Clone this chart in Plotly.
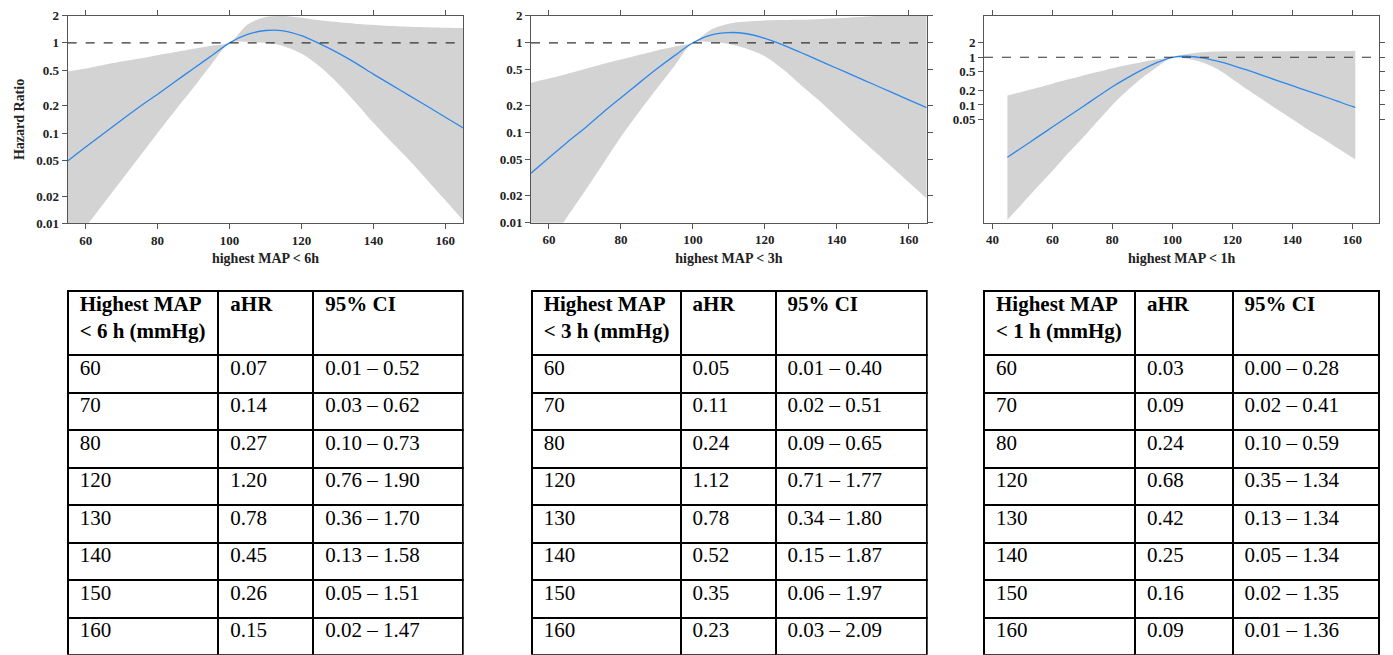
import plotly.graph_objects as go

W, H = 1393, 655

# ---------------- data ----------------
x6 = [55, 60, 65, 70, 75, 80, 85, 90, 95, 100, 105, 110, 115, 120, 125, 130, 135, 140, 145, 150, 155, 160, 165]
hr6 = [0.049, 0.07, 0.099, 0.14, 0.196, 0.27, 0.375, 0.52, 0.72, 1.0, 1.24, 1.37, 1.36, 1.20, 0.98, 0.78, 0.60, 0.45, 0.342, 0.26, 0.198, 0.15, 0.114]
up6 = [0.48, 0.52, 0.57, 0.62, 0.67, 0.73, 0.79, 0.86, 0.93, 1.0, 1.60, 1.93, 1.98, 1.90, 1.78, 1.70, 1.63, 1.58, 1.54, 1.51, 1.49, 1.47, 1.46]
lo6 = [0.005, 0.0091, 0.0166, 0.0302, 0.055, 0.10, 0.18, 0.32, 0.58, 1.0, 1.03, 1.0, 0.92, 0.76, 0.55, 0.36, 0.22, 0.13, 0.08, 0.05, 0.03, 0.018, 0.0107]

x3 = [55, 60, 65, 70, 75, 80, 85, 90, 95, 100, 105, 110, 115, 120, 125, 130, 135, 140, 145, 150, 155, 160, 165]
hr3 = [0.0355, 0.0527, 0.078, 0.113, 0.168, 0.245, 0.356, 0.513, 0.724, 1.0, 1.22, 1.30, 1.26, 1.12, 0.95, 0.78, 0.637, 0.521, 0.426, 0.348, 0.284, 0.232, 0.19]
up3 = [0.36, 0.40, 0.45, 0.51, 0.58, 0.65, 0.73, 0.82, 0.91, 1.0, 1.40, 1.63, 1.72, 1.77, 1.79, 1.80, 1.83, 1.87, 1.92, 1.97, 2.03, 2.09, 2.15]
lo3 = [0.0029, 0.0058, 0.0115, 0.0225, 0.045, 0.09, 0.17, 0.31, 0.56, 1.0, 1.02, 0.97, 0.86, 0.71, 0.51, 0.34, 0.23, 0.15, 0.098, 0.0645, 0.0427, 0.0282, 0.0186]

x1 = [45, 50, 55, 60, 65, 70, 75, 80, 85, 90, 95, 100, 105, 110, 115, 120, 125, 130, 135, 140, 145, 150, 155, 160, 161]
hr1 = [0.008, 0.013, 0.0211, 0.0344, 0.0558, 0.0908, 0.148, 0.24, 0.37, 0.55, 0.78, 1.0, 1.05, 0.97, 0.83, 0.68, 0.537, 0.419, 0.325, 0.253, 0.197, 0.155, 0.12, 0.093, 0.089]
up1 = [0.157, 0.19, 0.23, 0.28, 0.34, 0.41, 0.49, 0.59, 0.69, 0.80, 0.91, 1.0, 1.17, 1.28, 1.32, 1.34, 1.34, 1.34, 1.34, 1.34, 1.35, 1.35, 1.355, 1.36, 1.36]
lo1 = [0.00039, 0.00086, 0.0019, 0.0041, 0.0093, 0.02, 0.045, 0.10, 0.2, 0.37, 0.63, 1.0, 0.93, 0.78, 0.57, 0.35, 0.21, 0.13, 0.08, 0.05, 0.031, 0.02, 0.0125, 0.0079, 0.0072]

xtitles = ["highest MAP < 6h", "highest MAP < 3h", "highest MAP < 1h"]
ytitle = "Hazard Ratio"

yticks_a = [0.01, 0.02, 0.05, 0.1, 0.2, 0.5, 1, 2]
yticks_b = [0.05, 0.1, 0.2, 0.5, 1, 2]
xticks_a = [60, 80, 100, 120, 140, 160]
xticks_b = [40, 60, 80, 100, 120, 140, 160]

tab_map = ["60", "70", "80", "120", "130", "140", "150", "160"]
tab6_ahr = ["0.07", "0.14", "0.27", "1.20", "0.78", "0.45", "0.26", "0.15"]
tab6_ci = ["0.01 \u2013 0.52", "0.03 \u2013 0.62", "0.10 \u2013 0.73", "0.76 \u2013 1.90",
           "0.36 \u2013 1.70", "0.13 \u2013 1.58", "0.05 \u2013 1.51", "0.02 \u2013 1.47"]
tab3_ahr = ["0.05", "0.11", "0.24", "1.12", "0.78", "0.52", "0.35", "0.23"]
tab3_ci = ["0.01 \u2013 0.40", "0.02 \u2013 0.51", "0.09 \u2013 0.65", "0.71 \u2013 1.77",
           "0.34 \u2013 1.80", "0.15 \u2013 1.87", "0.06 \u2013 1.97", "0.03 \u2013 2.09"]
tab1_ahr = ["0.03", "0.09", "0.24", "0.68", "0.42", "0.25", "0.16", "0.09"]
tab1_ci = ["0.00 \u2013 0.28", "0.02 \u2013 0.41", "0.10 \u2013 0.59", "0.35 \u2013 1.34",
           "0.13 \u2013 1.34", "0.05 \u2013 1.34", "0.02 \u2013 1.35", "0.01 \u2013 1.36"]
tab_headers = [["Highest MAP<br>&lt; 6 h (mmHg)", "aHR", "95% CI"],
               ["Highest MAP<br>&lt; 3 h (mmHg)", "aHR", "95% CI"],
               ["Highest MAP<br>&lt; 1 h (mmHg)", "aHR", "95% CI"]]

# ---------------- layout geometry (pixels) ----------------
SERIF = "Liberation Serif"
panels = [
    dict(x=(67.7, 463.3), y=(15.7, 223.3), xr=[55, 165], yr=[-2, 0.30103], yt=yticks_a, xt=xticks_a, ymirror=True),
    dict(x=(531.0, 926.7), y=(15.7, 222.7), xr=[55, 165], yr=[-2, 0.30103], yt=yticks_a, xt=xticks_a, ymirror="ticks"),
    dict(x=(984.0, 1379.3), y=(15.7, 222.7), xr=[37.2, 169], yr=[-3.47, 0.872], yt=yticks_b, xt=xticks_b, ymirror="ticks"),
]
tables = [
    dict(x=(67.7, 463.3), cw=[150.6, 95, 149.4]),
    dict(x=(531.7, 926.7), cw=[149.3, 95, 150.7]),
    dict(x=(984.0, 1379.3), cw=[151, 97.7, 146.6]),
]
TABLE_TOP = 290.7
HEAD_H = 64.3
ROW_H = 37.5
TEXT_DX, TEXT_DY = 4, 7   # text nudge: right / up (px)

series = [(x6, hr6, up6, lo6), (x3, hr3, up3, lo3), (x1, hr1, up1, lo1)]
table_data = [(tab6_ahr, tab6_ci), (tab3_ahr, tab3_ci), (tab1_ahr, tab1_ci)]

fig = go.Figure()

BAND = "#d3d3d3"
LINE = "#2d88ea"
FRAME = "#555555"

for i, (xs, hr, up, lo) in enumerate(series):
    n = "" if i == 0 else str(i + 1)
    xa, ya = "x" + n, "y" + n
    fig.add_trace(go.Scatter(x=xs, y=up, xaxis=xa, yaxis=ya, mode="lines",
                             line=dict(width=0, color=BAND, shape="spline", smoothing=0.8),
                             hoverinfo="skip", showlegend=False))
    fig.add_trace(go.Scatter(x=xs, y=lo, xaxis=xa, yaxis=ya, mode="lines", fill="tonexty",
                             fillcolor=BAND, line=dict(width=0, color=BAND, shape="spline", smoothing=0.8),
                             hoverinfo="skip", showlegend=False))
    fig.add_trace(go.Scatter(x=xs, y=hr, xaxis=xa, yaxis=ya, mode="lines",
                             line=dict(width=1.3, color=LINE, shape="spline", smoothing=0.8),
                             showlegend=False))
    fig.add_shape(type="line", xref=xa + " domain", yref=ya, x0=0, x1=1, y0=1, y1=1,
                  line=dict(color="#333333", width=1.2, dash="dash"))

for i, p in enumerate(panels):
    n = "" if i == 0 else str(i + 1)
    fx = [p["x"][0] / W, p["x"][1] / W]
    fy = [1 - p["y"][1] / H, 1 - p["y"][0] / H]
    tickfont = dict(family=SERIF, size=13, color="#222", weight="bold")
    fig.update_layout(**{
        "xaxis" + n: dict(domain=fx, range=p["xr"], anchor="y" + n, tickvals=p["xt"],
                          showline=True, linecolor=FRAME, linewidth=1, mirror="ticks",
                          ticks="outside", ticklen=5, tickcolor=FRAME, showgrid=False, zeroline=False,
                          tickfont=tickfont, automargin=False,
                          title=dict(text=xtitles[i], font=dict(family=SERIF, size=14, color="#222", weight="bold"),
                                     standoff=6)),
        "yaxis" + n: dict(domain=fy, range=p["yr"], type="log", anchor="x" + n, tickvals=p["yt"],
                          ticktext=[("%g" % v) for v in p["yt"]],
                          showline=True, linecolor=FRAME, linewidth=1, mirror=p["ymirror"],
                          ticks="outside", ticklen=5, tickcolor=FRAME, showgrid=False, zeroline=False,
                          tickfont=tickfont, automargin=False,
                          title=dict(text=ytitle if i == 0 else "",
                                     font=dict(family=SERIF, size=14, color="#222", weight="bold"),
                                     standoff=8)),
    })

total_h = HEAD_H + ROW_H * len(tab_map)
for i, t in enumerate(tables):
    ahr, ci = table_data[i]
    blank_head = ["" for _ in tab_headers[i]]
    blank_cells = [["" for _ in tab_map] for _ in range(3)]
    # grid (borders only)
    fig.add_trace(go.Table(
        domain=dict(x=[t["x"][0] / W, t["x"][1] / W],
                    y=[1 - (TABLE_TOP + total_h) / H, 1 - TABLE_TOP / H]),
        columnwidth=t["cw"],
        header=dict(values=blank_head, height=HEAD_H,
                    line=dict(color="black", width=2), fill=dict(color="white")),
        cells=dict(values=blank_cells, height=ROW_H,
                   line=dict(color="black", width=2), fill=dict(color="white")),
    ))
    # text layer
    fig.add_trace(go.Table(
        domain=dict(x=[(t["x"][0] + TEXT_DX) / W, (t["x"][1] + TEXT_DX) / W],
                    y=[1 - (TABLE_TOP - TEXT_DY + total_h) / H, 1 - (TABLE_TOP - TEXT_DY) / H]),
        columnwidth=t["cw"],
        header=dict(values=["<b>%s</b>" % h for h in tab_headers[i]], align="left", height=HEAD_H,
                    line=dict(color="rgba(0,0,0,0)", width=0), fill=dict(color="rgba(0,0,0,0)"),
                    font=dict(family=SERIF, size=21, color="black")),
        cells=dict(values=[tab_map, ahr, ci], align="left", height=ROW_H,
                   line=dict(color="rgba(0,0,0,0)", width=0), fill=dict(color="rgba(0,0,0,0)"),
                   font=dict(family=SERIF, size=21, color="black")),
    ))

fig.update_layout(width=W, height=H, margin=dict(l=0, r=0, t=0, b=0, autoexpand=False),
                  paper_bgcolor="white", plot_bgcolor="white", showlegend=False)

fig.write_html("out.html", config={"displayModeBar": False},
               post_script="document.body.style.margin='0';document.body.style.padding='0';")
